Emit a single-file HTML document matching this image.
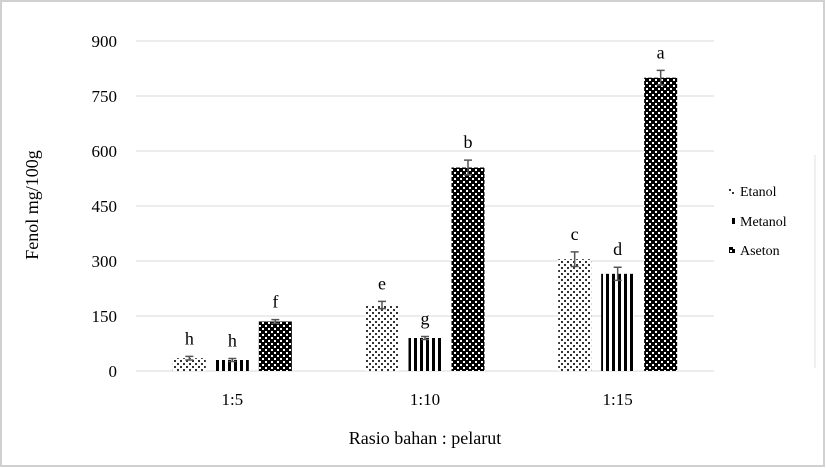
<!DOCTYPE html>
<html><head><meta charset="utf-8"><style>
html,body{margin:0;padding:0;background:#fff;}
svg{display:block;font-family:"Liberation Serif",serif;}
</style></head><body>
<svg width="826" height="468" viewBox="0 0 826 468">
<defs>
<pattern id="pEt" width="6" height="6" patternUnits="userSpaceOnUse"><rect width="6" height="6" fill="#fff"/><rect x="0" y="0" width="2" height="2" fill="#333"/><rect x="3" y="3" width="2" height="2" fill="#333"/></pattern>
<pattern id="pMe" width="6" height="6" patternUnits="userSpaceOnUse"><rect width="6" height="6" fill="#fff"/><rect x="0" y="0" width="3" height="6" fill="#000"/></pattern>
<pattern id="pAs" width="6" height="6" patternUnits="userSpaceOnUse"><rect width="6" height="6" fill="#000"/><rect x="1" y="1" width="2" height="2" fill="#fff"/><rect x="4" y="4" width="2" height="2" fill="#fff"/></pattern>
</defs>
<rect x="1" y="1" width="823" height="465" fill="#fff" stroke="#d0d0d0" stroke-width="2"/>
<line x1="815" y1="155" x2="815" y2="368" stroke="#e0e0e0" stroke-width="1"/>
<g id="grid"></g>
<g id="bars"></g>
<g id="legend" font-size="14">
<rect x="729" y="188" width="6" height="6" fill="url(#pEt)"/>
<text x="740" y="196">Etanol</text>
<rect x="729" y="218" width="6" height="6" fill="url(#pMe)"/>
<text x="740" y="226">Metanol</text>
<rect x="729" y="247" width="6" height="6" fill="url(#pAs)"/>
<text x="740" y="255">Aseton</text>
</g>
<text x="38" y="205" font-size="18" text-anchor="middle" transform="rotate(-90 38 205)">Fenol  mg/100g</text>
<text x="425" y="444" font-size="18" text-anchor="middle">Rasio bahan : pelarut</text>
</svg>
<script>
const categories = ["1:5","1:10","1:15"];
const seriesNames = ["Etanol","Metanol","Aseton"];
const etanol = [35,180,305];
const metanol = [30,90,265];
const aseton = [135,555,800];
const etanolErr = [5,10,20];
const metanolErr = [4,4,18];
const asetonErr = [5,20,20];
const etanolLetters = ["h","e","c"];
const metanolLetters = ["h","g","d"];
const asetonLetters = ["f","b","a"];
const yTicks = [0,150,300,450,600,750,900];

const NS="http://www.w3.org/2000/svg";
const x0=136,x1=714,yBase=371,yTop=41,yMax=900;
const y=v=>yBase-(v/yMax)*(yBase-yTop);
const band=(x1-x0)/categories.length;
const barW=33, step=43;
const fills=["url(#pEt)","url(#pMe)","url(#pAs)"];
const vals=[etanol,metanol,aseton], errs=[etanolErr,metanolErr,asetonErr], lets=[etanolLetters,metanolLetters,asetonLetters];
function mk(tag,attrs,parent){const e=document.createElementNS(NS,tag);for(const k in attrs)e.setAttribute(k,attrs[k]);parent.appendChild(e);return e;}
const grid=document.getElementById('grid');
yTicks.forEach(t=>{
  const l=mk('line',{x1:x0,x2:x1,y1:y(t),y2:y(t),stroke:'#d9d9d9','stroke-width':1},grid);
  
  
  const tx=mk('text',{x:117,y:y(t)+6,'font-size':17,'text-anchor':'end'},grid);
  tx.textContent=t;
  
  
});
const bars=document.getElementById('bars');
categories.forEach((c,i)=>{
  const cx=x0+band*(i+0.5);
  const tl=mk('text',{x:cx,y:405,'font-size':17,'text-anchor':'middle'},bars);
  tl.textContent=c;
  
  
  for(let s=0;s<3;s++){
    const bx=cx+(s-1)*step-barW/2, v=vals[s][i], e=errs[s][i];
    const r=mk('rect',{x:bx,y:y(v),width:barW,height:yBase-y(v),fill:fills[s]},bars);
    
    
    const mx=bx+barW/2;
    const g=mk('path',{d:`M${mx} ${y(v+e)}V${y(v-e)}M${mx-4} ${y(v+e)}H${mx+4}M${mx-4} ${y(v-e)}H${mx+4}`,stroke:'#555','stroke-width':1.5,fill:'none'},bars);
    
    
    const lt=mk('text',{x:mx,y:y(v+e)-12,'font-size':18,'text-anchor':'middle'},bars);
    lt.textContent=lets[s][i];
    
    
  }
});
</script>
</body></html>
